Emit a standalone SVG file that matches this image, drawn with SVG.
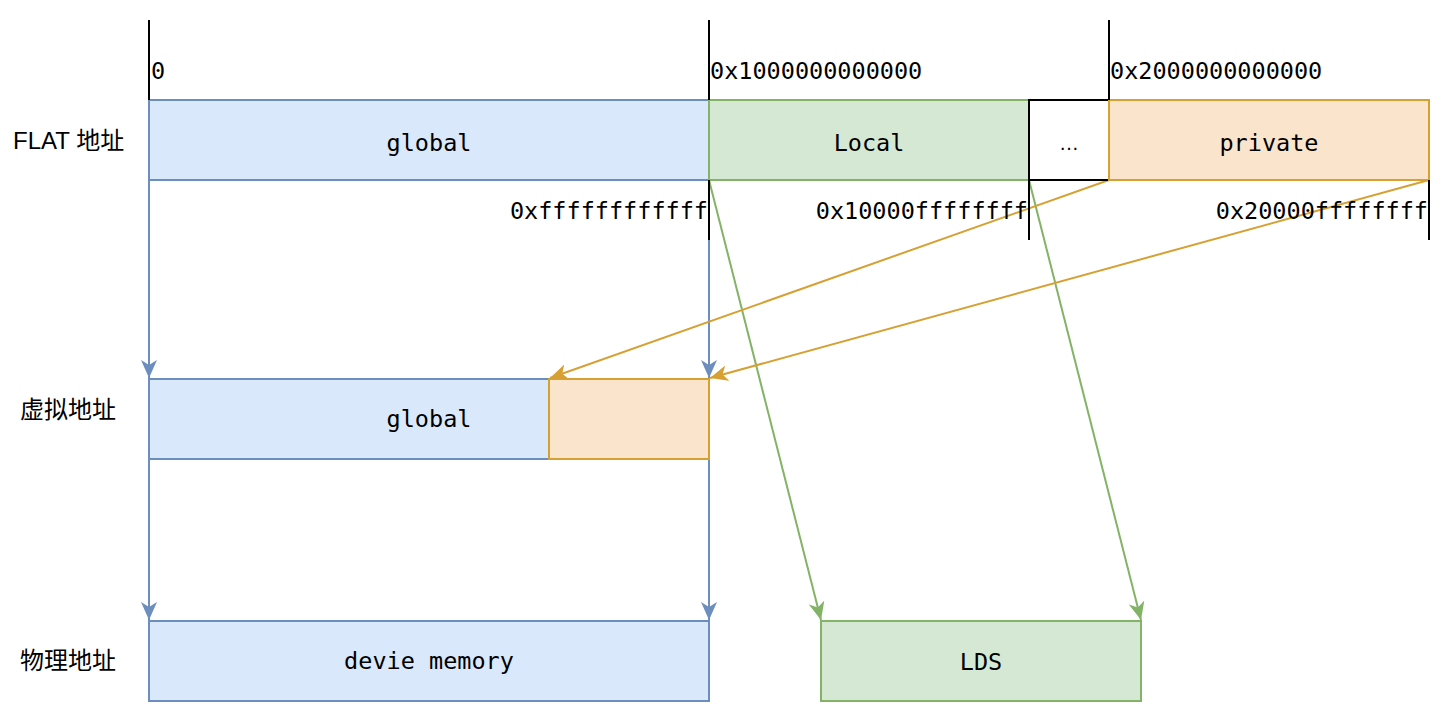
<svg xmlns="http://www.w3.org/2000/svg" width="1448" height="728" viewBox="0 0 1448 728">
<style>
.mono{font-family:"DejaVu Sans Mono","Liberation Mono",monospace;font-size:23.5px;fill:#000}
.sans{font-family:"Liberation Sans","Noto Sans CJK SC",sans-serif;font-size:24px;fill:#000}
.blue{fill:#dae8fc;stroke:#6c8ebf;stroke-width:2}
.green{fill:#d5e8d4;stroke:#82b366;stroke-width:2}
.orange{fill:#fae5cc;stroke:#d6a033;stroke-width:2}
.plain{fill:#fff;stroke:#000;stroke-width:2}
.tick{stroke:#000;stroke-width:2;fill:none}
.cb{stroke:#6c8ebf;stroke-width:2;fill:none;marker-end:url(#ab)}
.cg{stroke:#82b366;stroke-width:2;fill:none;marker-end:url(#ag)}
.co{stroke:#d6a033;stroke-width:2;fill:none;marker-end:url(#ao)}
</style>
<defs>
<marker id="ab" markerUnits="userSpaceOnUse" markerWidth="20" markerHeight="16" refX="18" refY="8" orient="auto"><path d="M0,0 L18,8 L0,16 L5,8 z" fill="#6c8ebf"/></marker>
<marker id="ag" markerUnits="userSpaceOnUse" markerWidth="20" markerHeight="16" refX="18" refY="8" orient="auto"><path d="M0,0 L18,8 L0,16 L5,8 z" fill="#82b366"/></marker>
<marker id="ao" markerUnits="userSpaceOnUse" markerWidth="20" markerHeight="16" refX="18" refY="8" orient="auto"><path d="M0,0 L18,8 L0,16 L5,8 z" fill="#d6a033"/></marker>
</defs>
<rect width="1448" height="728" fill="#fff"/>
<g id="connectors">
<line class="cb" x1="149" y1="180" x2="149" y2="378"/>
<line class="cb" x1="709" y1="180" x2="709" y2="378"/>
<line class="cb" x1="149" y1="459" x2="149" y2="620"/>
<line class="cb" x1="709" y1="459" x2="709" y2="620"/>
<line class="cg" x1="709" y1="180" x2="821" y2="620"/>
<line class="cg" x1="1029" y1="180" x2="1141" y2="620"/>
<line class="co" x1="1109" y1="180" x2="550" y2="378"/>
<line class="co" x1="1429" y1="180" x2="710" y2="378"/>
</g>
<g id="flat-global"><rect class="blue" x="149" y="100" width="560" height="80"/><text class="mono" x="429" y="151" text-anchor="middle">global</text></g>
<g id="flat-local"><rect class="green" x="709" y="100" width="320" height="80"/><text class="mono" x="869" y="151" text-anchor="middle">Local</text></g>
<g id="flat-dots"><rect class="plain" x="1029" y="100" width="80" height="80"/><text class="sans" x="1069" y="150" text-anchor="middle" style="font-size:20px">…</text></g>
<g id="flat-private"><rect class="orange" x="1109" y="100" width="320" height="80"/><text class="mono" x="1269" y="151" text-anchor="middle">private</text></g>
<g id="virt-global"><rect class="blue" x="149" y="379" width="400" height="80"/><text class="mono" x="429" y="427" text-anchor="middle">global</text></g>
<g id="virt-private"><rect class="orange" x="549" y="379" width="160" height="80"/></g>
<g id="phys-mem"><rect class="blue" x="149" y="621" width="560" height="80"/><text class="mono" x="429" y="669" text-anchor="middle">devie memory</text></g>
<g id="phys-lds"><rect class="green" x="821" y="621" width="320" height="80"/><text class="mono" x="981" y="670" text-anchor="middle">LDS</text></g>
<g id="ticks">
<line class="tick" x1="149" y1="20" x2="149" y2="100"/>
<line class="tick" x1="709" y1="20" x2="709" y2="100"/>
<line class="tick" x1="1109" y1="20" x2="1109" y2="100"/>
<line class="tick" x1="709" y1="180" x2="709" y2="240"/>
<line class="tick" x1="1029" y1="180" x2="1029" y2="240"/>
<line class="tick" x1="1429" y1="180" x2="1429" y2="240"/>
</g>
<g id="addr-labels">
<text class="mono" x="151" y="79">0</text>
<text class="mono" x="710" y="79">0x1000000000000</text>
<text class="mono" x="1110" y="79">0x2000000000000</text>
<text class="mono" x="708" y="219" text-anchor="end">0xffffffffffff</text>
<text class="mono" x="1028" y="219" text-anchor="end">0x10000ffffffff</text>
<text class="mono" x="1428" y="219" text-anchor="end">0x20000ffffffff</text>
</g>
<g id="row-labels">
<text class="sans" x="13" y="149">FLAT 地址</text>
<text class="sans" x="20" y="418">虚拟地址</text>
<text class="sans" x="20" y="669">物理地址</text>
</g>
</svg>
